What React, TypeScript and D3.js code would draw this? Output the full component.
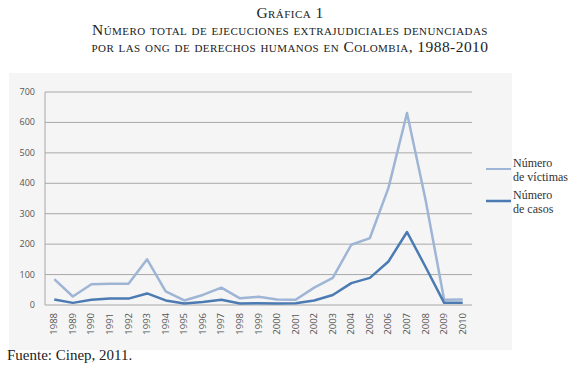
import React from "react";
import * as d3 from "d3";

const years = ["1988","1989","1990","1991","1992","1993","1994","1995","1996","1997","1998","1999","2000","2001","2002","2003","2004","2005","2006","2007","2008","2009","2010"];
const victimas = [85, 28, 68, 70, 70, 150, 45, 15, 33, 57, 22, 27, 18, 17, 57, 89, 198, 220, 385, 631, 345, 17, 18];
const casos = [18, 7, 17, 21, 21, 38, 15, 5, 10, 17, 5, 6, 5, 6, 15, 33, 72, 89, 143, 240, 125, 7, 7];
const yTicks = [0, 100, 200, 300, 400, 500, 600, 700];

const W = 580, H = 377;
const plot = { left: 45, right: 472, top: 92, bottom: 305 };

export default function App() {
  const x = d3.scalePoint<string>().domain(years).range([plot.left, plot.right]).padding(0.5);
  const y = d3.scaleLinear().domain([0, 700]).range([plot.bottom, plot.top]);
  const line = d3.line<number>().x((_, i) => x(years[i])!).y((d) => y(d));
  const serif = "'Liberation Serif', 'DejaVu Serif', serif";
  const sans = "'Open Sans', 'Noto Sans', sans-serif";
  return (
    <svg width={W} height={H} style={{ position: "absolute", left: 0, top: 0, background: "#fff" }}>
      <g fontFamily={serif} fill="#222" textAnchor="middle" style={{ fontVariant: "small-caps" }} fontSize={15.5} letterSpacing={0.45}>
        <text x={290} y={18}>Gráfica 1</text>
        <text x={290} y={35}>Número total de ejecuciones extrajudiciales denunciadas</text>
        <text x={290} y={52}>por las ong de derechos humanos en Colombia, 1988-2010</text>
      </g>
      <rect x={9} y={73} width={503} height={277} fill="#f5f5f5" />
      {yTicks.map((t) => (
        <g key={t}>
          <line x1={plot.left} x2={plot.right} y1={y(t)} y2={y(t)} stroke="#a8a8a8" strokeWidth={1} />
          <text x={35} y={y(t) + 3} fontSize={9} fill="#555" textAnchor="end" fontFamily={sans}>{t}</text>
        </g>
      ))}
      <line x1={plot.left} x2={plot.left} y1={plot.top} y2={plot.bottom} stroke="#a8a8a8" />
      {years.map((yr) => (
        <text key={yr} transform={`translate(${x(yr)! + 3},${plot.bottom + 8}) rotate(-90)`} fontSize={9.5} fill="#555" textAnchor="end" fontFamily={sans}>{yr}</text>
      ))}
      <path d={line(victimas)!} fill="none" stroke="#9fb5d5" strokeWidth={2.5} strokeLinejoin="round" />
      <path d={line(casos)!} fill="none" stroke="#4b7bb2" strokeWidth={2.5} strokeLinejoin="round" />
      <line x1={486} x2={511} y1={169} y2={169} stroke="#9fb5d5" strokeWidth={2} />
      <line x1={486} x2={511} y1={201} y2={201} stroke="#4b7bb2" strokeWidth={2.5} />
      <g fontFamily={serif} fontSize={12} fill="#333">
        <text x={513} y={167}>Número</text>
        <text x={513} y={181}>de víctimas</text>
        <text x={513} y={199}>Número</text>
        <text x={513} y={213}>de casos</text>
      </g>
      <text x={7} y={360} fontFamily={serif} fontSize={15} fill="#222">Fuente: Cinep, 2011.</text>
    </svg>
  );
}
